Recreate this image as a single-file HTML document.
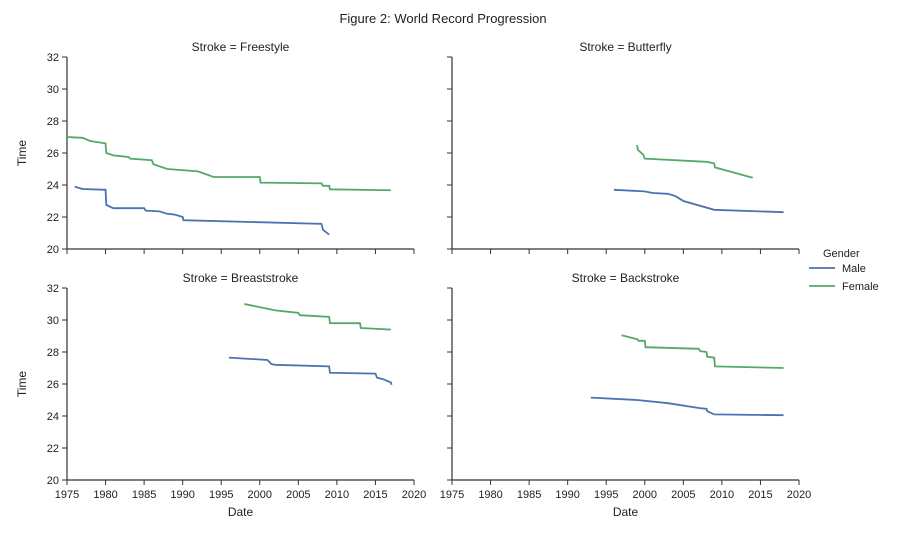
<!DOCTYPE html>
<html><head><meta charset="utf-8"><style>
body{margin:0;background:#fff;}
svg{font-family:"Liberation Sans",Arial,sans-serif;}
</style></head><body>
<svg id="c" width="901" height="552" xmlns="http://www.w3.org/2000/svg"></svg>
<script>
const years=[1975,1980,1985,1990,1995,2000,2005,2010,2015,2020];
const yTicks=[20,22,24,26,28,30,32];
const panels=["Freestyle","Butterfly","Breaststroke","Backstroke"];
const freeF=[[1975,27.0],[1977,26.95],[1978,26.75],[1980,26.6],[1980.1,26.0],[1981,25.85],[1983,25.75],[1983.2,25.65],[1986,25.55],[1986.2,25.3],[1988,25.0],[1992,24.85],[1994,24.5],[2000,24.5],[2000.1,24.15],[2008,24.1],[2008.2,23.95],[2009,23.95],[2009.1,23.73],[2017,23.67]];
const freeM=[[1976,23.9],[1977,23.75],[1980,23.7],[1980.1,22.75],[1981,22.55],[1985,22.55],[1985.2,22.4],[1987,22.35],[1988,22.2],[1989,22.15],[1990,22.0],[1990.1,21.8],[2008,21.57],[2008.2,21.2],[2009,20.9]];
const flyF=[[1999,26.5],[1999.1,26.2],[1999.8,25.9],[2000,25.65],[2008,25.45],[2009,25.35],[2009.1,25.1],[2014,24.45]];
const flyM=[[1996,23.7],[2000,23.6],[2001,23.5],[2003,23.45],[2004,23.3],[2005,23.0],[2009,22.45],[2018,22.3]];
const brF=[[1998,31.0],[2002,30.6],[2005,30.45],[2005.2,30.3],[2009,30.2],[2009.1,29.8],[2013,29.8],[2013.1,29.5],[2017,29.4]];
const brM=[[1996,27.65],[2001,27.5],[2001.5,27.25],[2002,27.2],[2009,27.1],[2009.1,26.7],[2015,26.65],[2015.2,26.4],[2016,26.3],[2017,26.1],[2017.1,25.95]];
const bkF=[[1997,29.05],[1999,28.8],[1999.2,28.7],[2000,28.7],[2000.1,28.3],[2007,28.2],[2007.2,28.05],[2008,28.0],[2008.1,27.7],[2009,27.65],[2009.1,27.1],[2018,27.0]];
const bkM=[[1993,25.15],[1999,25.0],[2003,24.8],[2007,24.5],[2008,24.45],[2008.1,24.3],[2009,24.1],[2018,24.05]];
const male=[freeM,flyM,brM,bkM], female=[freeF,flyF,brF,bkF];
const NS="http://www.w3.org/2000/svg", svg=document.getElementById('c');
function mk(t,a,txt){const e=document.createElementNS(NS,t);for(const k in a)e.setAttribute(k,a[k]);if(txt!==undefined)e.textContent=txt;svg.appendChild(e);return e;}
const t=mk('text',{x:443,y:23,'text-anchor':'middle','font-size':13,fill:'#222'},'Figure 2: World Record Progression');

const X0=[67,452],Y0=[57,288];
panels.forEach((p,i)=>{
  const col=i%2,row=Math.floor(i/2),x0=X0[col],x1=x0+347,yt=Y0[row],yb=yt+192;
  const sx=v=>x0+(v-1975)/45*(x1-x0), sy=v=>yb-(v-20)/12*(yb-yt);
  let e=mk('text',{x:(x0+x1)/2,y:yt-6,'text-anchor':'middle','font-size':12,fill:'#222'},'Stroke = '+p);
  
  e=mk('line',{x1:x0,y1:yt,x2:x0,y2:yb,stroke:'#333','stroke-width':1.2});
  
  e=mk('line',{x1:x0,y1:yb,x2:x1,y2:yb,stroke:'#333','stroke-width':1.2});
  
  yTicks.forEach(v=>{mk('line',{x1:x0-5,y1:sy(v),x2:x0,y2:sy(v),stroke:'#333'});
    if(col==0){e=mk('text',{x:x0-8,y:sy(v)+4,'text-anchor':'end','font-size':11,fill:'#222'},v);
    }});
  years.forEach(v=>{mk('line',{x1:sx(v),y1:yb,x2:sx(v),y2:yb+5,stroke:'#333'});
    if(row==1){e=mk('text',{x:sx(v),y:yb+18,'text-anchor':'middle','font-size':11,fill:'#222'},v);
    }});
  if(col==0){e=mk('text',{x:26,y:(yt+yb)/2,'text-anchor':'middle','font-size':12,fill:'#222',transform:`rotate(-90 26 ${(yt+yb)/2})`},'Time');
    }
  if(row==1){e=mk('text',{x:(x0+x1)/2,y:yb+36,'text-anchor':'middle','font-size':12,fill:'#222'},'Date');
    }
  [[male[i],'#4c72b0','male'],[female[i],'#55a868','female']].forEach(([d,c,n])=>{
    e=mk('polyline',{points:d.map(q=>sx(q[0])+','+sy(q[1])).join(' '),fill:'none',stroke:c,'stroke-width':1.8});
    });
});
let e=mk('text',{x:823,y:257,'font-size':11,fill:'#222'},'Gender');

[['Male','#4c72b0',272],['Female','#55a868',290]].forEach(([n,c,y])=>{
  e=mk('line',{x1:809,y1:y-4,x2:835,y2:y-4,stroke:c,'stroke-width':1.8});
  
  e=mk('text',{x:842,y:y,'font-size':11,fill:'#222'},n);
  
});
</script>
</body></html>
